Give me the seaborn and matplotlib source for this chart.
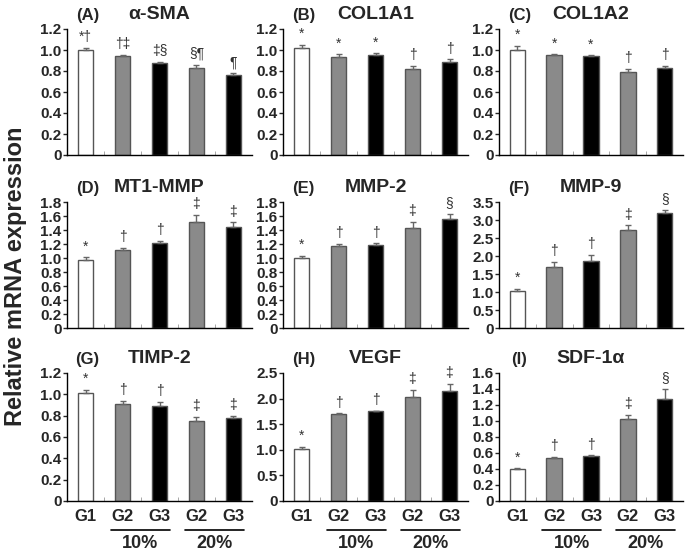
import numpy as np
import pandas as pd
import matplotlib
matplotlib.use("Agg")
import matplotlib.pyplot as plt
import matplotlib.transforms as mtransforms
import seaborn as sns

# data
groups = ["G1", "G2-10", "G3-10", "G2-20", "G3-20"]
group_labels = ["G1", "G2", "G3", "G2", "G3"]
bar_colors = ["white", "#8a8a8a", "black", "#8a8a8a", "black"]

panel_letters = ["(A)", "(B)", "(C)", "(D)", "(E)", "(F)", "(G)", "(H)", "(I)"]
genes = ["α-SMA", "COL1A1", "COL1A2", "MT1-MMP", "MMP-2", "MMP-9", "TIMP-2", "VEGF", "SDF-1α"]

means = [
    [1.00, 0.94, 0.88, 0.83, 0.76],
    [1.02, 0.93, 0.95, 0.82, 0.89],
    [1.00, 0.95, 0.94, 0.79, 0.83],
    [0.97, 1.12, 1.22, 1.51, 1.44],
    [1.00, 1.17, 1.19, 1.43, 1.56],
    [1.03, 1.70, 1.85, 2.71, 3.19],
    [1.01, 0.91, 0.89, 0.75, 0.78],
    [1.02, 1.69, 1.75, 2.04, 2.15],
    [0.40, 0.54, 0.56, 1.03, 1.28],
]
errors = [
    [0.02, 0.01, 0.01, 0.03, 0.02],
    [0.03, 0.03, 0.02, 0.03, 0.02],
    [0.04, 0.01, 0.01, 0.03, 0.02],
    [0.04, 0.03, 0.03, 0.11, 0.07],
    [0.03, 0.03, 0.02, 0.09, 0.07],
    [0.06, 0.13, 0.19, 0.14, 0.10],
    [0.03, 0.03, 0.04, 0.04, 0.02],
    [0.04, 0.02, 0.01, 0.13, 0.14],
    [0.01, 0.01, 0.01, 0.05, 0.12],
]
marks = [
    ["*†", "†‡", "‡§", "§¶", "¶"],
    ["*", "*", "*", "†", "†"],
    ["*", "*", "*", "†", "†"],
    ["*", "†", "†", "‡", "‡"],
    ["*", "†", "†", "‡", "§"],
    ["*", "†", "†", "‡", "§"],
    ["*", "†", "†", "‡", "‡"],
    ["*", "†", "†", "‡", "‡"],
    ["*", "†", "†", "‡", "§"],
]
y_max = [1.2, 1.2, 1.2, 1.8, 1.8, 3.5, 1.2, 2.5, 1.6]
y_step = [0.2, 0.2, 0.2, 0.2, 0.2, 0.5, 0.2, 0.5, 0.2]

sns.set_style("ticks")
plt.rcParams['font.family'] = ['Liberation Sans', 'DejaVu Sans']

W, H = 685, 553
fig = plt.figure(figsize=(W / 100, H / 100), dpi=100)

# axes boxes in pixels: left, top, right, bottom
cols_px = [(67, 252), (283, 468), (499, 683)]
rows_px = [(29, 155), (202, 328), (373, 501)]

for i in range(9):
    r, c = divmod(i, 3)
    l, rr = cols_px[c]
    t, b = rows_px[r]
    ax = fig.add_axes([l / W, 1 - b / H, (rr - l) / W, (b - t) / H])

    df = pd.DataFrame({"group": groups, "value": means[i]})
    sns.barplot(data=df, x="group", y="value", hue="group", palette=bar_colors,
                order=groups, hue_order=groups, legend=False, width=0.42,
                edgecolor="#555555", linewidth=1.0, ax=ax, errorbar=None)
    ax.errorbar(np.arange(5), means[i], yerr=[np.zeros(5), errors[i]],
                fmt="none", ecolor="#666666", elinewidth=1.0, capsize=2.5, capthick=1.0)

    for k in range(5):
        top = means[i][k] + errors[i][k]
        ax.text(k, top + y_max[i] * 0.03, marks[i][k], ha="center", va="bottom",
                fontsize=10, color="#333333")

    ax.set_xlim(-0.5, 4.5)
    ax.set_ylim(0, y_max[i])
    ticks = np.arange(0, y_max[i] + 1e-9, y_step[i])
    ax.set_yticks(ticks)
    ax.set_yticklabels(["0"] + [f"{v:.1f}" for v in ticks[1:]], fontsize=11, fontweight="bold")
    ax.tick_params(axis="y", length=3, width=1, pad=1)
    ax.set_xlabel("")
    ax.set_ylabel("")
    for s in ["top", "right"]:
        ax.spines[s].set_visible(False)
    for s in ["left", "bottom"]:
        ax.spines[s].set_linewidth(1.0)
        ax.spines[s].set_color("black")

    if r == 2:
        ax.set_xticks(np.arange(5))
        ax.set_xticklabels(group_labels, fontsize=12, fontweight="bold")
        ax.tick_params(axis="x", which="major", pad=6, length=0)
        trans = mtransforms.blended_transform_factory(ax.transData, ax.transAxes)
        for x0, x1, lab in [(0.68, 2.28, "10%"), (2.68, 4.28, "20%")]:
            ax.plot([x0, x1], [-0.225, -0.225], color="black", lw=1.2,
                    transform=trans, clip_on=False)
            ax.text((x0 + x1) / 2, -0.265, lab, transform=trans, ha="center", va="top",
                    fontsize=13, fontweight="bold")
    else:
        ax.set_xticks([])
    ax.set_xticks(np.arange(0.5, 4.5, 1.0), minor=True)
    ax.tick_params(axis="x", which="minor", direction="in", length=3, color="#999999")

    ax.text(0.5, 1.05, genes[i], transform=ax.transAxes, ha="center", va="bottom",
            fontsize=14, fontweight="bold")
    ax.text(0.11, 1.05, panel_letters[i], transform=ax.transAxes, ha="center", va="bottom",
            fontsize=12, fontweight="bold")

fig.text(0.022, 0.5, "Relative mRNA expression", rotation=90, ha="center", va="center",
         fontsize=17, fontweight="bold")

fig.savefig("out.png", dpi=100)
